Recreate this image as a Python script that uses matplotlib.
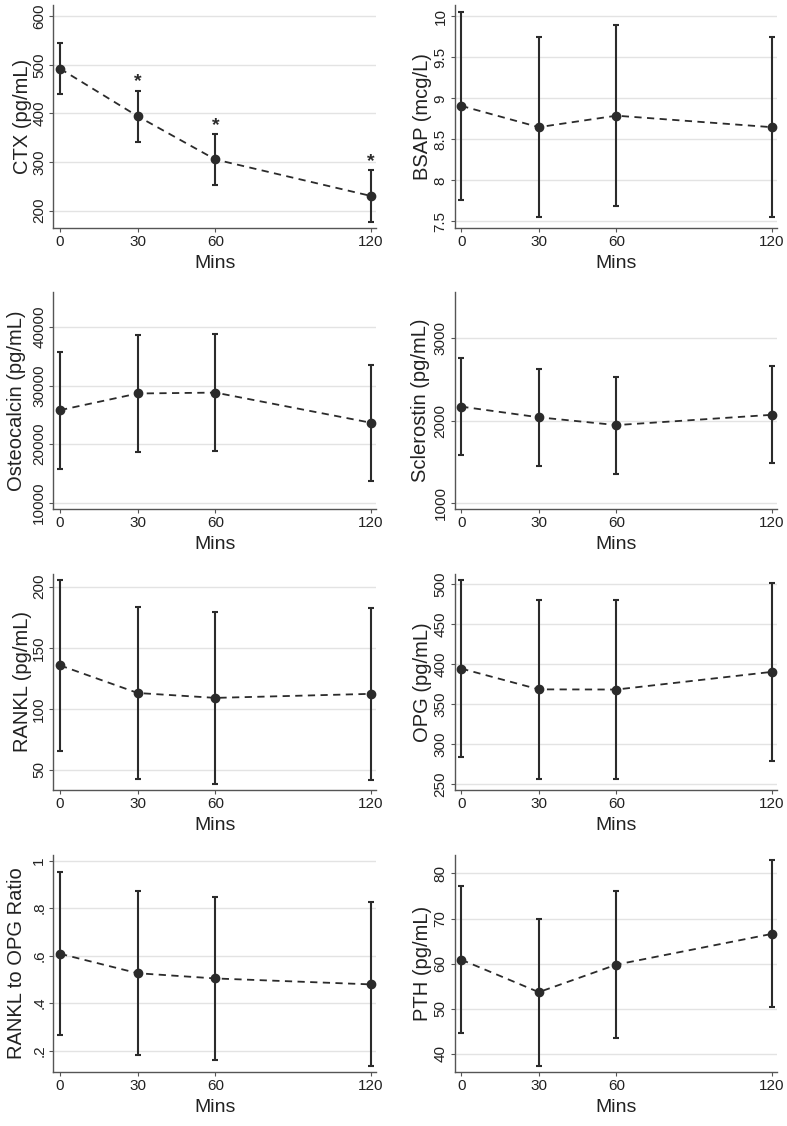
import matplotlib.pyplot as plt
import numpy as np

plt.rcParams['font.family'] = ['Liberation Sans', 'DejaVu Sans']

mins = [0, 30, 60, 120]

ctx_mean = [492, 394, 305, 230]
ctx_err = [53, 53, 53, 53]
bsap_mean = [8.91, 8.65, 8.79, 8.65]
bsap_err = [1.15, 1.10, 1.10, 1.10]
ost_mean = [25800, 28650, 28800, 23650]
ost_err = [10000, 10000, 10000, 9950]
scl_mean = [2170, 2040, 1945, 2070]
scl_err = [588, 589, 590, 590]
rankl_mean = [135.6, 113.0, 109.0, 112.3]
rankl_err = [70.2, 70.5, 70.5, 70.5]
opg_mean = [394.5, 368.5, 368.3, 390.3]
opg_err = [111.0, 111.5, 111.5, 111.0]
ratio_mean = [0.608, 0.526, 0.504, 0.479]
ratio_err = [0.344, 0.345, 0.345, 0.345]
pth_mean = [60.9, 53.7, 59.8, 66.6]
pth_err = [16.3, 16.3, 16.3, 16.3]

sig_ctx = [False, True, True, True]

panels = [
    ("CTX (pg/mL)", ctx_mean, ctx_err, (164, 623), [200, 300, 400, 500, 600],
     ["200", "300", "400", "500", "600"]),
    ("BSAP (mcg/L)", bsap_mean, bsap_err, (7.42, 10.14), [7.5, 8, 8.5, 9, 9.5, 10],
     ["7.5", "8", "8.5", "9", "9.5", "10"]),
    ("Osteocalcin (pg/mL)", ost_mean, ost_err, (8900, 46000), [10000, 20000, 30000, 40000],
     ["10000", "20000", "30000", "40000"]),
    ("Sclerostin (pg/mL)", scl_mean, scl_err, (923, 3566), [1000, 2000, 3000],
     ["1000", "2000", "3000"]),
    ("RANKL (pg/mL)", rankl_mean, rankl_err, (33.6, 210.4), [50, 100, 150, 200],
     ["50", "100", "150", "200"]),
    ("OPG (pg/mL)", opg_mean, opg_err, (242.9, 512.5), [250, 300, 350, 400, 450, 500],
     ["250", "300", "350", "400", "450", "500"]),
    ("RANKL to OPG Ratio", ratio_mean, ratio_err, (0.11, 1.024), [0.2, 0.4, 0.6, 0.8, 1.0],
     [".2", ".4", ".6", ".8", "1"]),
    ("PTH (pg/mL)", pth_mean, pth_err, (36.0, 84.1), [40, 50, 60, 70, 80],
     ["40", "50", "60", "70", "80"]),
]

W, H = 787, 1126
fig = plt.figure(figsize=(W / 100, H / 100), dpi=100)

col_x = [(53.3, 376.0), (454.5, 776.7)]
row_y = [(5, 228), (292, 509), (574, 790), (855, 1072)]
# centre of y label, px left of the spine
label_off = [-31, -33, -37, -35, -31, -32, -37, -32]

dark = '#2b2b2b'
for i, (ylab, mean, err, ylim, yt, ytl) in enumerate(panels):
    r, c = divmod(i, 2)
    x0, x1 = col_x[c]
    top, bot = row_y[r]
    ax = fig.add_axes([x0 / W, 1 - bot / H, (x1 - x0) / W, (bot - top) / H])
    ax.errorbar(mins, mean, yerr=err, fmt='none', ecolor=dark, elinewidth=1.5,
                capsize=2.2, capthick=1.5, zorder=3)
    ax.plot(mins, mean, linestyle=(0, (4, 3)), color=dark, lw=1.3,
            marker='o', markersize=6, markerfacecolor=dark, markeredgecolor=dark, zorder=4)
    if i == 0:
        for xm, m, e, s in zip(mins, mean, err, sig_ctx):
            if s:
                ax.annotate('*', (xm, m + e), xytext=(0, 0), textcoords='offset points',
                            ha='center', va='bottom', fontsize=14, fontweight='bold', color=dark)
    ax.set_xlim(-2.6, 122)
    ax.set_ylim(*ylim)
    ax.set_xticks(mins)
    ax.set_xticklabels([str(m) for m in mins])
    ax.set_yticks(yt)
    ax.set_yticklabels(ytl, rotation=90, va='center')
    ax.grid(axis='y', color='#e3e3e3', lw=1.0)
    ax.set_axisbelow(True)
    for s in ['top', 'right']:
        ax.spines[s].set_visible(False)
    for s in ['left', 'bottom']:
        ax.spines[s].set_color('#555555')
        ax.spines[s].set_linewidth(1.0)
    ax.tick_params(axis='both', direction='out', length=3, width=0.8, color='#555555',
                   labelsize=11, labelcolor='#222222', pad=2)
    ax.set_xlabel('Mins', fontsize=14, color='#222222')
    ax.xaxis.set_label_coords(0.5, -27 / (bot - top))
    ax.set_ylabel(ylab, fontsize=14.5, color='#222222')
    ax.yaxis.set_label_coords((label_off[i] + 10) / (x1 - x0), 0.5)

fig.savefig('out.png', dpi=100, facecolor='white')
